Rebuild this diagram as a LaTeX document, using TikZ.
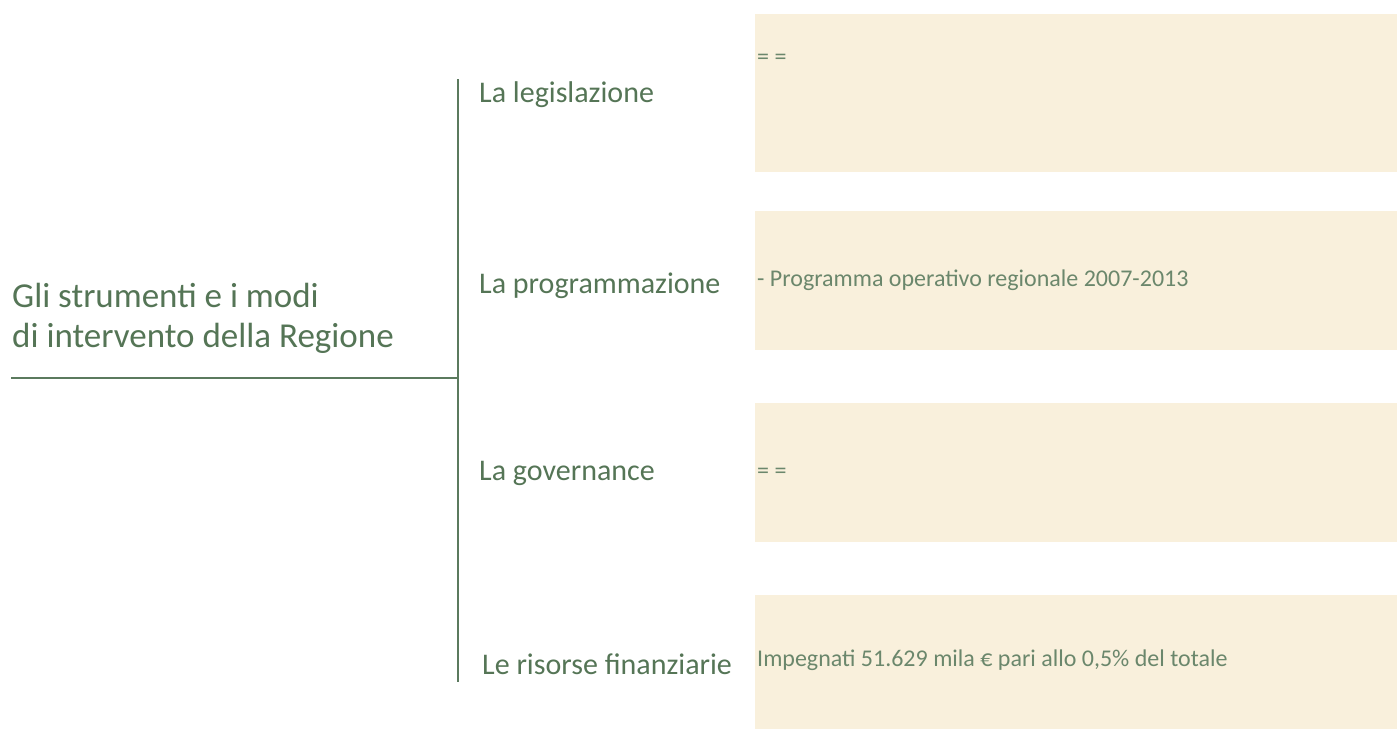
\documentclass[tikz,border=0pt]{standalone}
\usepackage{fontspec}
\setmainfont{Carlito}
\definecolor{lineG}{HTML}{5B7A5E}
\definecolor{txtG}{HTML}{557556}
\definecolor{boxTxt}{HTML}{6B876C}
\definecolor{boxFill}{HTML}{F9F0DC}
\tikzset{
  lbl/.style={anchor=base west, inner sep=0pt, text=txtG, font=\fontsize{30}{36}\selectfont},
  ttl/.style={anchor=base west, inner sep=0pt, text=txtG, font=\fontsize{35}{42}\selectfont},
  boxtxt/.style={anchor=base west, inner sep=0pt, text=boxTxt, font=\fontsize{24}{29}\selectfont},
  panel/.style={fill=boxFill, draw=none},
  tree/.style={draw=lineG, line width=2pt}
}
\begin{document}
\begin{tikzpicture}[x=1pt,y=-1pt]
\useasboundingbox (0,0) rectangle (1397,729);
% boxes
\fill[panel] (755,14) rectangle (1397,172);
\fill[panel] (755,211) rectangle (1397,350);
\fill[panel] (755,403) rectangle (1397,542);
\fill[panel] (755,595) rectangle (1397,729);
% tree
\coordinate (vt) at (458,79);
\coordinate (vb) at (458,682);
\coordinate (hl) at (11,378);
\coordinate (hr) at (458,378);
\draw[tree] (vt) -- (vb);
\draw[tree] (hl) -- (hr);
% title
\node[ttl] (title) at (12,307) {Gli strumenti e i modi};
\node[ttl] (title2) at (12,347) {di intervento della Regione};
% labels
\node[lbl] (l1) at (479,102) {La legislazione};
\node[lbl] (l2) at (479,293) {La programmazione};
\node[lbl] (l3) at (479,480) {La governance};
\node[lbl] (l4) at (482,674) {Le risorse finanziarie};
% box texts
\node[boxtxt] (b1) at (757,64) {= =};
\node[boxtxt] (b2) at (757,286) {- Programma operativo regionale 2007-2013};
\node[boxtxt] (b3) at (757,478) {= =};
\node[boxtxt] (b4) at (757,666) {Impegnati 51.629 mila € pari allo 0,5\% del totale};
\end{tikzpicture}
\end{document}
